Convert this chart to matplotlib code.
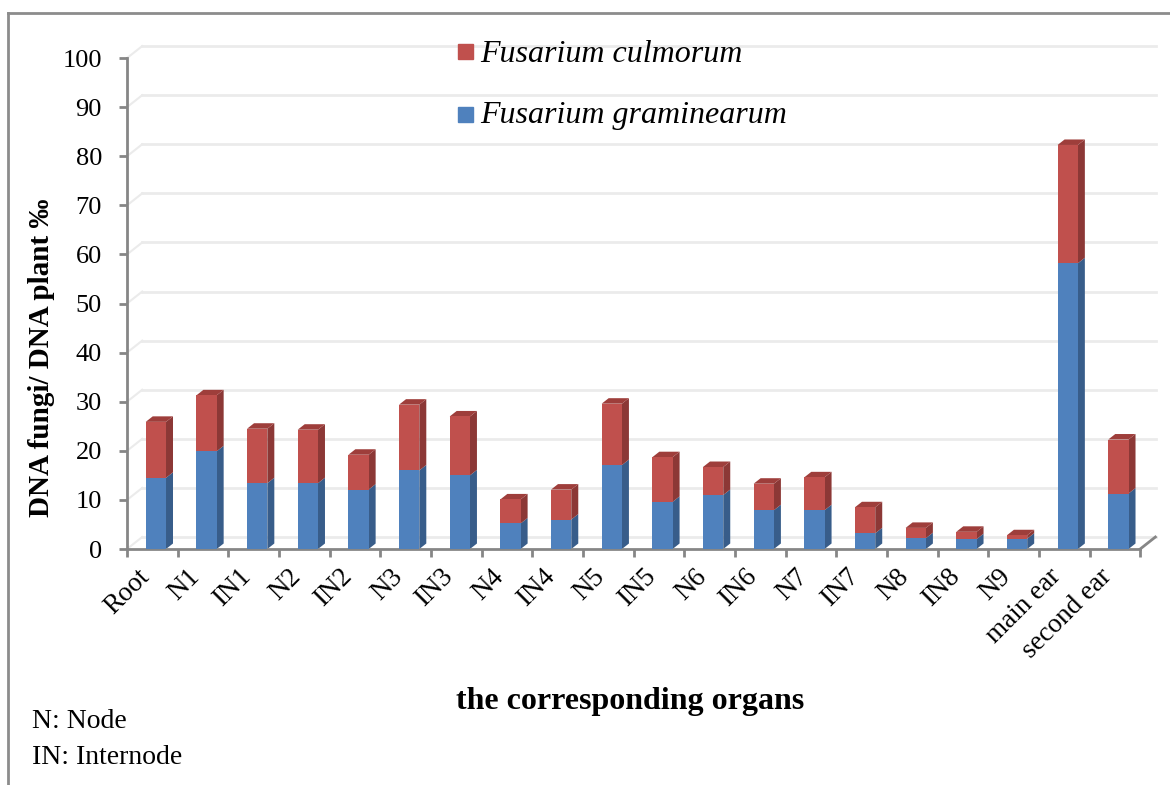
import matplotlib.pyplot as plt
from matplotlib.patches import Polygon, Rectangle
from matplotlib.lines import Line2D
import matplotlib.transforms as mtransforms

organs = ['Root', 'N1', 'IN1', 'N2', 'IN2', 'N3', 'IN3', 'N4', 'IN4', 'N5',
          'IN5', 'N6', 'IN6', 'N7', 'IN7', 'N8', 'IN8', 'N9', 'main ear', 'second ear']
graminearum = [14.5, 19.9, 13.4, 13.4, 12.1, 16.0, 15.0, 5.2, 6.0, 17.1,
               9.6, 11.0, 7.9, 7.9, 3.2, 2.2, 2.0, 2.1, 58.2, 11.3]
culmorum = [11.4, 11.4, 11.1, 10.9, 7.1, 13.4, 12.0, 4.9, 6.1, 12.5,
            9.1, 5.7, 5.4, 6.7, 5.3, 2.1, 1.5, 0.7, 24.1, 11.0]
yticks = list(range(0, 101, 10))

blue, blue_side = '#4F81BD', '#385D8A'
red, red_side, red_top = '#C0504D', '#8C3836', '#9E3E3B'
grid_col = '#EBEBEB'
axis_col = '#868686'

plt.rcParams['font.family'] = ['Liberation Serif', 'DejaVu Serif']

W, H = 1170, 785
fig = plt.figure(figsize=(W / 100, H / 100), dpi=100)
ax = fig.add_axes([127 / W, 236 / H, 1038 / W, 514 / H])
ax.set_xlim(-0.5, 19.99)
ax.set_ylim(0, 104.7)

# pseudo-3d depth of the bars and of the back wall, in data units
bw, boff = 0.40, 0.07
ddx, ddy = 0.138, 1.12
wdx, wdy = 0.30, 2.44

# back wall gridlines with the little diagonal joins to the axis
for v in yticks:
    ax.plot([-0.5 + wdx, 19.82], [v + wdy, v + wdy], color=grid_col, lw=2, zorder=0, clip_on=False)
    ax.plot([-0.5, -0.5 + wdx], [v, v + wdy], color=grid_col, lw=1.5, zorder=0, clip_on=False)
ax.plot([19.5, 19.5 + wdx], [0, wdy], color=axis_col, lw=2, zorder=1, clip_on=False)

xs = [i + boff for i in range(len(organs))]
ax.bar(xs, graminearum, width=bw, color=blue, zorder=3)
ax.bar(xs, culmorum, width=bw, bottom=graminearum, color=red, zorder=3)

for x, g, c in zip(xs, graminearum, culmorum):
    xr, xl = x + bw / 2, x - bw / 2
    tot = g + c
    ax.add_patch(Polygon([(xr, 0), (xr + ddx, ddy), (xr + ddx, g + ddy), (xr, g)],
                         closed=True, color=blue_side, lw=0, zorder=2))
    ax.add_patch(Polygon([(xr, g), (xr + ddx, g + ddy), (xr + ddx, tot + ddy), (xr, tot)],
                         closed=True, color=red_side, lw=0, zorder=2))
    ax.add_patch(Polygon([(xl, tot), (xl + ddx, tot + ddy), (xr + ddx, tot + ddy), (xr, tot)],
                         closed=True, color=red_top, lw=0, zorder=2))

for s in ['top', 'right']:
    ax.spines[s].set_visible(False)
for s in ['left', 'bottom']:
    ax.spines[s].set_color(axis_col)
    ax.spines[s].set_linewidth(2)
ax.spines['left'].set_bounds(0, 100)
ax.spines['bottom'].set_bounds(-0.5, 19.5)

ax.set_yticks(yticks)
ax.tick_params(axis='y', length=6, width=2, color=axis_col, labelsize=19, pad=12)
ax.set_xticks([i - 0.5 for i in range(len(organs) + 1)])
ax.set_xticklabels([])
ax.tick_params(axis='x', length=6, width=2, color=axis_col)

off = mtransforms.ScaledTranslation(0.02, -0.15, fig.dpi_scale_trans)
trans = mtransforms.blended_transform_factory(ax.transData, ax.transAxes) + off
for i, lab in enumerate(organs):
    ax.text(i, 0, lab, transform=trans, rotation=45, ha='right', va='top', fontsize=19.5)

fig.text(42 / W, 1 - 358 / H, 'DNA fungi/ DNA plant \u2030', rotation=90,
         ha='center', va='center', fontsize=21, fontweight='bold')
fig.text(630 / W, 1 - 702 / H, 'the corresponding organs', ha='center', va='center',
         fontsize=23, fontweight='bold')
fig.text(32 / W, 1 - 728 / H, 'N: Node', ha='left', va='baseline', fontsize=20)
fig.text(32 / W, 1 - 764 / H, 'IN: Internode', ha='left', va='baseline', fontsize=20)

# legend
for ybase, ysq, col, lab in [(62, 44, red, 'Fusarium culmorum'), (123, 107, blue, 'Fusarium graminearum')]:
    fig.patches.append(Rectangle((458 / W, 1 - (ysq + 15) / H), 15 / W, 15 / H,
                                 transform=fig.transFigure, color=col))
    fig.text(480 / W, 1 - ybase / H, lab, ha='left', va='baseline', fontsize=23, style='italic')

# outer frame
fig.lines.append(Line2D([8 / W, 1], [1 - 13 / H] * 2, transform=fig.transFigure, color='#8C8C8C', lw=2))
fig.lines.append(Line2D([8 / W] * 2, [0, 1 - 13 / H], transform=fig.transFigure, color='#8C8C8C', lw=2))

fig.savefig('out.png', dpi=100)
